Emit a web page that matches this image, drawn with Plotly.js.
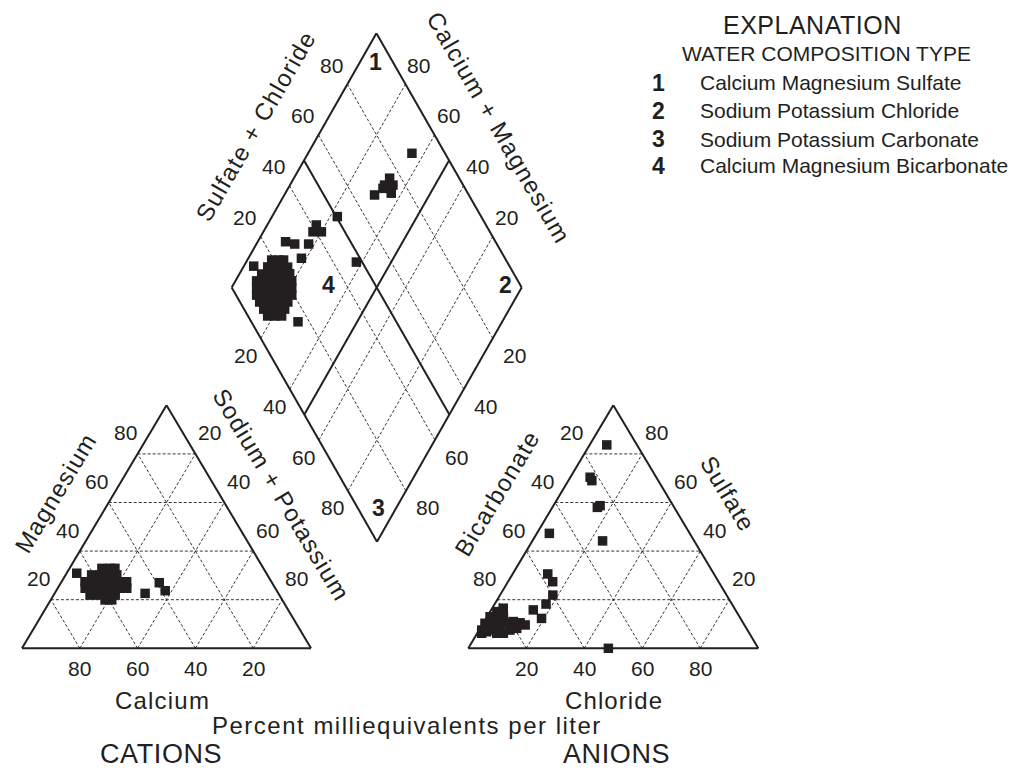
<!DOCTYPE html>
<html><head><meta charset="utf-8">
<script src="https://cdn.plot.ly/plotly-3.0.1.min.js"></script>
<style>html,body{margin:0;padding:0;background:#fff}#chart{width:1016px;height:769px}</style>
</head><body><div id="chart"></div>
<script>
// ---------------- DATA (percent milliequivalents per liter) ----------------
const gridValues = [20, 40, 60, 80];

// Cation triangle: Magnesium and Sodium+Potassium (Calcium = remainder)
const cationMg  = [32.9,32.9,32.9, 30.2,30.2,30.2,30.2, 27.4,27.4,27.4,27.4,27.4,27.4, 24.7,24.7,24.7,24.7,24.7,24.7, 21.9,21.9,21.9,21.9, 19.9,19.9, 30.9, 22.6, 27.0, 23.7];
const cationNaK = [11.2,14.0,15.7, 9.0,11.9,14.8,17.7, 8.1,11.0,13.9,16.7,19.6,22.5, 9.5,12.4,15.3,18.1,21.0,23.9, 12.6,15.5,18.4,21.3, 18.8,21.1, 3.5, 31.3, 34.0, 37.7];

// Anion triangle: Sulfate and Chloride (Bicarbonate = remainder)
const anionSO4 = [83.7,70.4,69.0,58.7,58.0,47.3,44.2,30.6,27.4,21.9,18.2,15.8,12.3,0.0,
                  7.5,10.3,13.0,15.1,16.5,6.8,7.5,8.9,10.3,11.0,10.5,9.6,7.5,6.2,13.0,11.0,6.2,6.2,8.2,8.9,11.7];
const anionCl  = [5.9,6.8,8.1,16.1,15.5,4.3,24.2,12.1,15.4,18.2,17.7,14.5,19.1,48.3,
                  0.9,0.6,1.0,2.3,3.8,2.9,4.9,6.5,8.1,10.0,12.6,14.8,10.6,6.7,5.6,2.6,1.5,9.0,12.6,3.0,4.5];

// Diamond: Sulfate+Chloride and Calcium+Magnesium
const diamondSO4Cl = [88.6,67.5,72.9,76.0,75.8,73.6,71.7,50.4,41.5,41.9,39.0,27.6,30.3,35.1,48.0,11.8,16.1,29.8,
  19.2,21.6,23.3, 16.5,18.9,21.3,23.3, 13.0,15.4,17.8,20.2,22.7, 9.9,12.3,14.7,17.1,19.6,22.0,
  8.5,10.9,13.4,15.8,18.2,20.6, 7.1,9.6,12.0,14.4,16.8,19.2, 6.8,9.2,11.6,14.0,16.5, 6.8,9.2,11.6,14.0, 6.8,9.2,11.6];
const diamondCaMg  = [64.2,68.9,67.4,67.0,64.5,63.5,67.3,77.5,83.1,80.0,82.9,90.4,86.8,82.0,62.0,96.6,70.4,81.7,
  91.6,89.2,87.5, 91.6,89.2,86.8,84.7, 92.3,89.9,87.5,85.1,82.7, 92.7,90.2,87.8,85.4,83.0,80.6,
  91.3,88.9,86.5,84.0,81.6,79.2, 89.9,87.5,85.1,82.7,80.3,77.8, 87.5,85.1,82.7,80.3,77.8, 84.7,82.3,79.9,77.5, 82.0,79.6,77.2];

const regionNumbers = ['1', '2', '3', '4'];
const regionNames = ['Calcium Magnesium Sulfate', 'Sodium Potassium Chloride', 'Sodium Potassium Carbonate', 'Calcium Magnesium Bicarbonate'];

// ---------------- GEOMETRY (Piper projection onto the page frame) ----------------
const CAT = {x0: 22, y0: 648.3, w: 289, h: 243};
const ANI = {x0: 468.3, y0: 648.3, w: 290, h: 243};
const DIA = {bx: 377, by: 541.7, lx: 231.7, ly: 287.5, rx: 521.7, ry: 287.5};
function cat(mg, nak) { return [CAT.x0 + CAT.w * (nak / 100 + mg / 200), CAT.y0 - CAT.h * mg / 100]; }
function ani(so4, cl) { return [ANI.x0 + ANI.w * (cl / 100 + so4 / 200), ANI.y0 - ANI.h * so4 / 100]; }
function dia(s, c) {
  s /= 100; c /= 100;
  return [DIA.bx + c * (DIA.lx - DIA.bx) + s * (DIA.rx - DIA.bx),
          DIA.by + c * (DIA.ly - DIA.by) + s * (DIA.ry - DIA.by)];
}
function segs(pairs) {
  const x = [], y = [];
  pairs.forEach(p => { x.push(p[0][0], p[1][0], null); y.push(p[0][1], p[1][1], null); });
  return {x, y};
}
const INK = '#231f20';
const F = 'Liberation Sans, Arial, Helvetica, sans-serif';

// frames
const framePairs = [
  [cat(0,0), cat(0,100)], [cat(0,100), cat(100,0)], [cat(100,0), cat(0,0)],
  [ani(0,0), ani(0,100)], [ani(0,100), ani(100,0)], [ani(100,0), ani(0,0)],
  [dia(0,0), dia(0,100)], [dia(0,100), dia(100,100)], [dia(100,100), dia(100,0)], [dia(100,0), dia(0,0)],
  [dia(50,0), dia(50,100)], [dia(0,50), dia(100,50)]
];
// dashed grid
const gridPairs = [];
gridValues.forEach(v => {
  gridPairs.push([cat(v,0), cat(v,100-v)], [cat(0,v), cat(100-v,v)], [cat(0,100-v), cat(100-v,0)]);
  gridPairs.push([ani(v,0), ani(v,100-v)], [ani(0,v), ani(100-v,v)], [ani(0,100-v), ani(100-v,0)]);
  gridPairs.push([dia(v,0), dia(v,100)], [dia(0,v), dia(100,v)]);
});

const g = segs(gridPairs), f = segs(framePairs);
const catPts = cationMg.map((m, i) => cat(m, cationNaK[i]));
const aniPts = anionSO4.map((s, i) => ani(s, anionCl[i]));
const diaPts = diamondSO4Cl.map((s, i) => dia(s, diamondCaMg[i]));
const allPts = catPts.concat(aniPts, diaPts);

const traces = [
  {x: g.x, y: g.y, mode: 'lines', line: {color: INK, width: 0.9, dash: '3px,2px'}, hoverinfo: 'skip'},
  {x: f.x, y: f.y, mode: 'lines', line: {color: INK, width: 2}, hoverinfo: 'skip'},
  {x: allPts.map(p => p[0]), y: allPts.map(p => p[1]), mode: 'markers',
   marker: {symbol: 'square', size: 9.5, color: INK, line: {width: 0}}}
];

// ---------------- TEXT ----------------
const ann = [];
function T(x, y, text, size, opts) {
  ann.push(Object.assign({x, y, xref: 'x', yref: 'y', text, showarrow: false, borderpad: 0, borderwidth: 0,
    xanchor: 'center', yanchor: 'middle', font: {family: F, size: size, color: INK}}, opts || {}));
}
function sp(t, ls) { return '<span style="letter-spacing:' + ls + 'px">' + t + '</span>'; }
function add(p, dx, dy) { return [p[0] + dx, p[1] + dy]; }

gridValues.forEach(v => {
  let p;
  p = add(cat(v, 0), -12, -21); T(p[0], p[1], String(v), 21);
  p = add(cat(100 - v, v), 14, -21); T(p[0], p[1], String(v), 21);
  p = add(cat(0, 100 - v), 0, 20); T(p[0], p[1], String(v), 21);
  p = add(ani(100 - v, 0), -12.6, -21); T(p[0], p[1], String(v), 21);
  p = add(ani(v, 100 - v), 14.4, -21); T(p[0], p[1], String(v), 21);
  p = add(ani(0, v), 0, 20); T(p[0], p[1], String(v), 21);
  p = add(dia(v, 100), -16, -19); T(p[0], p[1], String(v), 21);
  p = add(dia(100, v), 13.5, -19); T(p[0], p[1], String(v), 21);
  p = add(dia(0, 100 - v), -15, 17); T(p[0], p[1], String(v), 21);
  p = add(dia(100 - v, 0), 22, 17); T(p[0], p[1], String(v), 21);
});

// axis titles
T(55, 493, sp('Magnesium', 1.2), 24, {textangle: -59});
T(281.5, 494, sp('Sodium + Potassium', 1.2), 24, {textangle: 59});
T(255, 126, sp('Sulfate + Chloride', 1.3), 24, {textangle: -60});
T(499, 127, sp('Calcium + Magnesium', 1.3), 24, {textangle: 60});
T(496.7, 493, sp('Bicarbonate', 1.2), 24, {textangle: -59});
T(728, 493, sp('Sulfate', 1.2), 24, {textangle: 59});
T(162.5, 700, sp('Calcium', 1.2), 24);
T(614, 700, sp('Chloride', 1.1), 24);
T(406.7, 725, sp('Percent milliequivalents per liter', 1.5), 24);
T(161, 769, sp('CATIONS', 0.6), 27, {yanchor: 'bottom'});
T(616, 769, sp('ANIONS', 0.6), 27, {yanchor: 'bottom'});

// region numbers in diamond
const regionPos = [[375, 62], [505, 285], [378, 508], [328, 285]];
regionNumbers.forEach((n, i) => T(regionPos[i][0], regionPos[i][1], '<b>' + n + '</b>', 23));

// explanation
T(812.5, 25, sp('EXPLANATION', 0.5), 25);
T(826.7, 53, 'WATER COMPOSITION TYPE', 21);
const legY = [82.5, 110.8, 139, 165.8];
regionNumbers.forEach((n, i) => {
  T(658.3, legY[i], '<b>' + n + '</b>', 23);
  T(700, legY[i], regionNames[i], 21, {xanchor: 'left'});
});

const layout = {
  width: 1016, height: 769, margin: {l: 0, r: 0, t: 0, b: 0},
  paper_bgcolor: '#ffffff', plot_bgcolor: '#ffffff', showlegend: false,
  xaxis: {range: [0, 1016], visible: false, fixedrange: true},
  yaxis: {range: [769, 0], visible: false, fixedrange: true},
  annotations: ann
};
Plotly.newPlot('chart', traces, layout, {staticPlot: true, displayModeBar: false});
</script></body></html>
